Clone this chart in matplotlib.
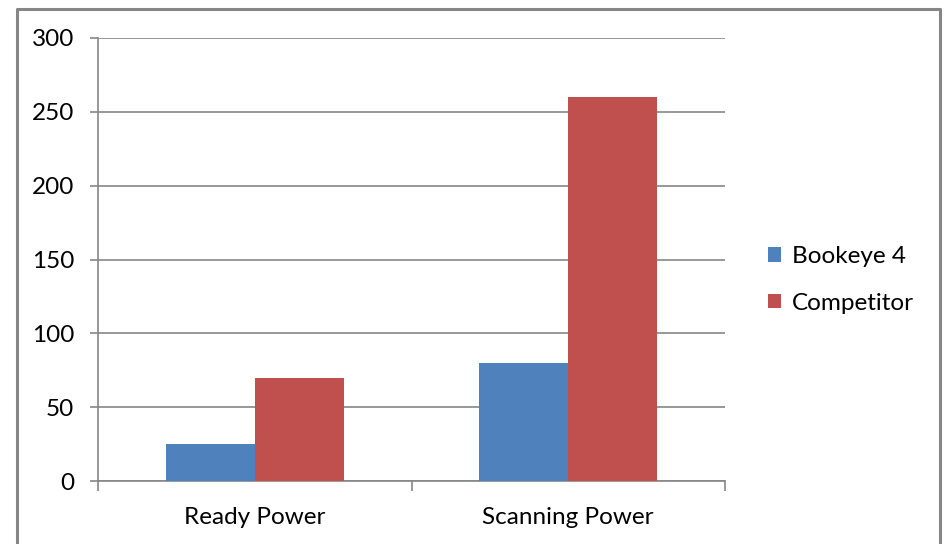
import numpy as np
import matplotlib
matplotlib.use("Agg")
import matplotlib.pyplot as plt
from matplotlib.lines import Line2D

plt.rcParams['font.family'] = ['Lato', 'DejaVu Sans']

categories = ["Ready Power", "Scanning Power"]
series_names = ["Bookeye 4", "Competitor"]
bookeye = [25, 80]
competitor = [70, 260]
colors = ["#4f81bd", "#c0504d"]
grid_col = "#868686"
fs = 17.5

fig = plt.figure(figsize=(9.44, 5.44), dpi=100)
ax = fig.add_axes([98 / 944, 1 - 481 / 544, (725 - 98) / 944, (481 - 38) / 544])

x = np.arange(len(categories))
w = 0.284
ax.bar(x - w / 2, bookeye, w, color=colors[0], label=series_names[0], zorder=3)
ax.bar(x + w / 2, competitor, w, color=colors[1], label=series_names[1], zorder=3)

ax.set_xlim(-0.5, len(categories) - 0.5)
ax.set_ylim(0, 300)
ax.set_yticks(np.arange(0, 301, 50))
ax.yaxis.grid(True, color=grid_col, linewidth=1.2, zorder=0)
ax.set_axisbelow(True)

ax.set_xticks(x)
ax.set_xticklabels(categories)
ax.set_xticks(np.arange(-0.5, len(categories)), minor=True)
ax.tick_params(axis='x', which='major', length=0, pad=19, labelsize=fs)
ax.tick_params(axis='x', which='minor', length=7, width=1.2, color=grid_col, direction='out')
ax.tick_params(axis='y', length=6, width=1.2, color=grid_col, pad=11, labelsize=fs)

for s in ['top', 'right']:
    ax.spines[s].set_visible(False)
for s in ['left', 'bottom']:
    ax.spines[s].set_color(grid_col)
    ax.spines[s].set_linewidth(1.2)

leg = fig.legend(loc='center left', bbox_to_anchor=(746 / 944, 1 - 280 / 544),
                 frameon=False, fontsize=fs, handlelength=0.55, handleheight=0.55,
                 handletextpad=0.45, labelspacing=1.05)

# chart area border (left, top, right)
fig.add_artist(Line2D([17 / 944, 17 / 944, 940 / 944, 940 / 944],
                      [0, 1 - 9 / 544, 1 - 9 / 544, 0],
                      transform=fig.transFigure, color=grid_col, linewidth=2.2))

fig.savefig("out.png", dpi=100)
